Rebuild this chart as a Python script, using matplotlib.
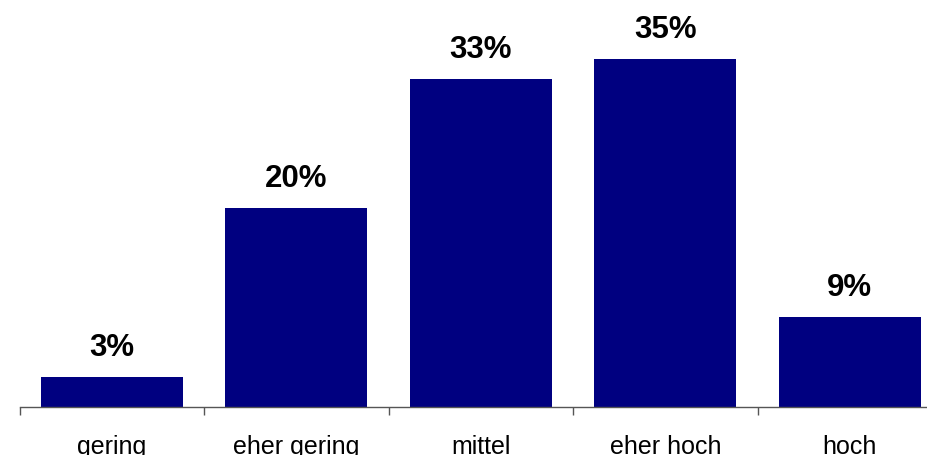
import numpy as np
import matplotlib
matplotlib.use("Agg")
import matplotlib.pyplot as plt

# Daten
categories = ["gering", "eher gering", "mittel", "eher hoch", "hoch"]
values = [3, 20, 33, 35, 9]

plt.rcParams["font.family"] = ["Liberation Sans", "DejaVu Sans"]

fig = plt.figure(figsize=(9.27, 4.56), dpi=100)
# Achse läuft rechts über den Bildrand hinaus (wie im Original)
ax = fig.add_axes([19.5 / 927, 48.5 / 456, 922.5 / 927, 396.8 / 456])

x = np.arange(len(categories))
ax.bar(x, values, width=0.77, color="#000080")

for xi, v in zip(x, values):
    ax.text(xi, v + 2.2, f"{v}%", ha="center", va="baseline",
            fontsize=22.5, fontweight="bold", color="black")

ax.set_xlim(-0.5, len(categories) - 0.5)
ax.set_ylim(0, 40)

ax.set_xticks(x)
ax.set_xticklabels(categories, fontsize=18)
ax.set_xticks(np.arange(-0.5, len(categories)), minor=True)
ax.tick_params(axis="x", which="major", length=0, pad=19.5)
ax.tick_params(axis="x", which="minor", length=6, width=1, color="#555555")

ax.set_yticks([])
for side in ["left", "right", "top"]:
    ax.spines[side].set_visible(False)
ax.spines["bottom"].set_color("#555555")
ax.spines["bottom"].set_linewidth(1)

fig.savefig("out.png", dpi=100)
